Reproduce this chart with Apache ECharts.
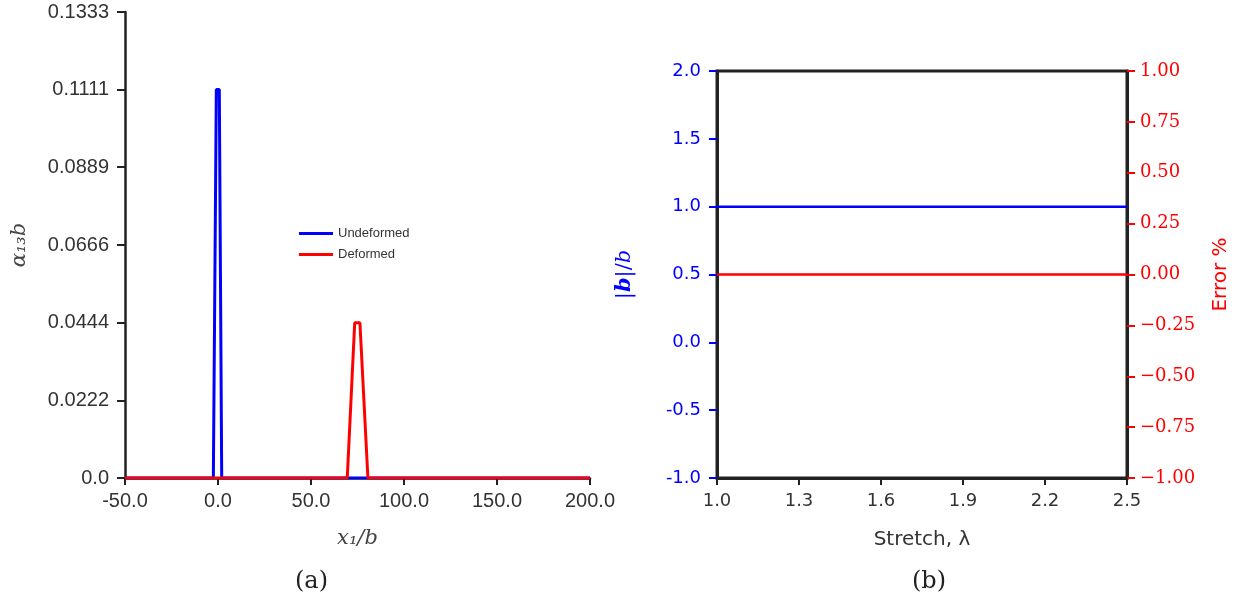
<!DOCTYPE html>
<html>
<head>
<meta charset="utf-8">
<script src="https://cdn.jsdelivr.net/npm/echarts@6/dist/echarts.min.js"></script>
<style>
html,body{margin:0;padding:0;background:#fff;}
#c{width:1239px;height:607px;}
</style>
</head>
<body>
<div id="c"></div>
<script>
// ---- Panel (a) data ----
const undeformedX = [-50, -2.5, -0.9, 0.7, 2.0, 200];
const undeformedY = [0, 0, 0.1111, 0.1111, 0, 0];
const deformedX = [-50, 69.5, 73.5, 76.3, 80.6, 200];
const deformedY = [0, 0, 0.0444, 0.0444, 0, 0];
const aYTickLabels = ['0.0', '0.0222', '0.0444', '0.0666', '0.0889', '0.1111', '0.1333'];
const aXTicks = [-50, 0, 50, 100, 150, 200];

// ---- Panel (b) data ----
const stretch = [1.0, 1.1, 1.2, 1.3, 1.4, 1.5, 1.6, 1.7, 1.8, 1.9, 2.0, 2.1, 2.2, 2.3, 2.4, 2.5];
const bNorm = [1.0, 1.0, 1.0, 1.0, 1.0, 1.0, 1.0, 1.0, 1.0, 1.0, 1.0, 1.0, 1.0, 1.0, 1.0, 1.0];
const errorPct = [0.0, 0.0, 0.0, 0.0, 0.0, 0.0, 0.0, 0.0, 0.0, 0.0, 0.0, 0.0, 0.0, 0.0, 0.0, 0.0];
const bXTicks = [1.0, 1.3, 1.6, 1.9, 2.2, 2.5];

const aYTickValues = aYTickLabels.map(Number);
const pair = (xs, ys) => xs.map((x, i) => [x, ys[i]]);
const sans = 'Liberation Sans';
const dj = 'DejaVu Sans';
const serif = 'DejaVu Serif';
const dark = '#222';

const chart = echarts.init(document.getElementById('c'), null, {renderer: 'canvas'});
chart.setOption({
  animation: false,
  backgroundColor: '#fff',
  grid: [
    {left: 125, top: 12, width: 465, height: 466, show: false},
    {left: 717, top: 71, width: 410, height: 407, show: true, borderColor: dark, borderWidth: 3, backgroundColor: 'transparent'}
  ],
  legend: {
    left: 294, top: 222, orient: 'vertical', icon: 'rect',
    itemWidth: 34, itemHeight: 3, itemGap: 8,
    textStyle: {fontFamily: sans, fontSize: 13, color: '#333', padding: [0, 0, 0, 0]},
    data: ['Undeformed', 'Deformed']
  },
  xAxis: [
    {
      gridIndex: 0, type: 'value', min: -50, max: 200,
      axisLine: {onZero: false, lineStyle: {color: dark, width: 2.5}},
      axisTick: {length: 7, lineStyle: {color: dark, width: 2}, customValues: aXTicks},
      axisLabel: {fontFamily: sans, fontSize: 20, color: '#333', margin: 13, customValues: aXTicks,
        formatter: v => v.toFixed(1)},
      splitLine: {show: false},
      name: 'x₁/b', nameLocation: 'middle', nameGap: 50,
      nameTextStyle: {fontFamily: serif, fontStyle: 'italic', fontSize: 21, color: '#444'}
    },
    {
      gridIndex: 1, type: 'value', min: 1.0, max: 2.5,
      axisLine: {onZero: false, lineStyle: {color: dark, width: 3}},
      axisTick: {length: 7, lineStyle: {color: dark, width: 2}, customValues: bXTicks},
      axisLabel: {fontFamily: dj, fontSize: 18, color: '#333', margin: 14, customValues: bXTicks,
        formatter: v => v.toFixed(1)},
      splitLine: {show: false},
      name: 'Stretch, λ', nameLocation: 'middle', nameGap: 52,
      nameTextStyle: {fontFamily: dj, fontSize: 20, color: '#333'}
    }
  ],
  yAxis: [
    {
      gridIndex: 0, type: 'value', min: 0, max: 0.1333,
      axisLine: {onZero: false, lineStyle: {color: dark, width: 2.5}},
      axisTick: {length: 8, lineStyle: {color: dark, width: 2}, customValues: aYTickValues},
      axisLabel: {fontFamily: sans, fontSize: 20, color: '#333', margin: 16, customValues: aYTickValues,
        formatter: v => { const i = aYTickValues.indexOf(v); return i >= 0 ? aYTickLabels[i] : ''; }},
      splitLine: {show: false},
      name: 'α₁₃b', nameLocation: 'middle', nameGap: 95,
      nameTextStyle: {fontFamily: serif, fontStyle: 'italic', fontSize: 21, color: '#444'}
    },
    {
      gridIndex: 1, type: 'value', min: -1, max: 2, interval: 0.5, position: 'left',
      axisLine: {onZero: false, lineStyle: {color: dark, width: 3}},
      axisTick: {length: 8, lineStyle: {color: '#0000ff', width: 2}},
      axisLabel: {fontFamily: dj, fontSize: 18, color: '#0000ff', margin: 16,
        formatter: v => v.toFixed(1)},
      splitLine: {show: false},
      name: '{n||}{b|b}{n||/}{i|b}', nameLocation: 'middle', nameGap: 82,
      nameTextStyle: {color: '#0000ff', fontSize: 21, rich: {
        n: {fontFamily: serif, fontSize: 21, color: '#0000ff'},
        b: {fontFamily: serif, fontStyle: 'italic', fontWeight: 'bold', fontSize: 21, color: '#0000ff'},
        i: {fontFamily: serif, fontStyle: 'italic', fontSize: 21, color: '#0000ff'}
      }}
    },
    {
      gridIndex: 1, type: 'value', min: -1, max: 1, interval: 0.25, position: 'right',
      axisLine: {show: true, onZero: false, lineStyle: {color: dark, width: 3}},
      axisTick: {length: 8, lineStyle: {color: '#ff0000', width: 2}},
      axisLabel: {fontFamily: serif, fontSize: 18, color: '#ff0000', margin: 13,
        formatter: v => (v < 0 ? '\u2212' + Math.abs(v).toFixed(2) : v.toFixed(2))},
      splitLine: {show: false},
      name: 'Error %', nameLocation: 'middle', nameGap: 84,
      nameTextStyle: {fontFamily: dj, fontSize: 20, color: '#ff0000'}
    }
  ],
  series: [
    {name: 'Undeformed', type: 'line', xAxisIndex: 0, yAxisIndex: 0, data: pair(undeformedX, undeformedY),
      symbol: 'none', lineStyle: {color: '#0000ff', width: 3}, itemStyle: {color: '#0000ff'}},
    {name: 'Deformed', type: 'line', xAxisIndex: 0, yAxisIndex: 0, data: pair(deformedX, deformedY),
      symbol: 'none', lineStyle: {color: '#ff0000', width: 3}, itemStyle: {color: '#ff0000'}},
    {name: '|b|/b', type: 'line', xAxisIndex: 1, yAxisIndex: 1, data: pair(stretch, bNorm),
      symbol: 'none', lineStyle: {color: '#0000ff', width: 2.5}},
    {name: 'Error %', type: 'line', xAxisIndex: 1, yAxisIndex: 2, data: pair(stretch, errorPct),
      symbol: 'none', lineStyle: {color: '#ff0000', width: 2.5}}
  ],
  graphic: [
    {type: 'text', left: 295, top: 570, style: {text: '(a)', fontFamily: serif, fontSize: 24, fill: '#222'}},
    {type: 'text', left: 912, top: 570, style: {text: '(b)', fontFamily: serif, fontSize: 24, fill: '#222'}}
  ]
});
</script>
</body>
</html>
